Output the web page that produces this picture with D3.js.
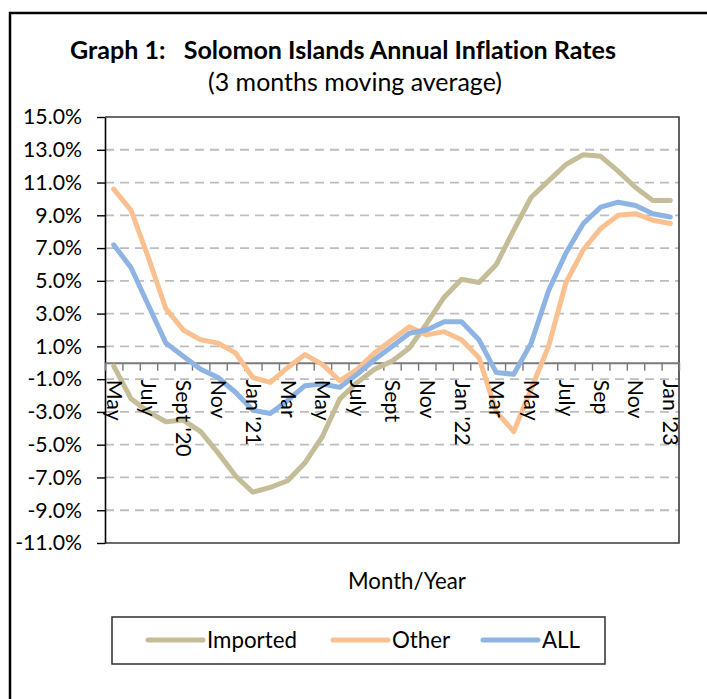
<!DOCTYPE html>
<html>
<head>
<meta charset="utf-8">
<script src="https://cdn.jsdelivr.net/npm/d3@7"></script>
<style>
  body { margin: 0; background: #fff; }
  text { font-family: Lato, "Open Sans", sans-serif; fill: #000; font-variant-ligatures: none; }
</style>
</head>
<body>
<div id="chart"></div>
<script>
// months on the category axis (May 2020 .. Jan 2023)
const months = ["May-20", "Jun-20", "Jul-20", "Aug-20", "Sep-20", "Oct-20", "Nov-20", "Dec-20",
    "Jan-21", "Feb-21", "Mar-21", "Apr-21", "May-21", "Jun-21", "Jul-21", "Aug-21", "Sep-21", "Oct-21", "Nov-21", "Dec-21",
    "Jan-22", "Feb-22", "Mar-22", "Apr-22", "May-22", "Jun-22", "Jul-22", "Aug-22", "Sep-22", "Oct-22", "Nov-22", "Dec-22",
    "Jan-23"];

// labels shown under every second month
const tickLabels = ["May", "July", "Sept '20", "Nov", "Jan '21", "Mar", "May", "July", "Sept", "Nov",
    "Jan '22", "Mar", "May", "July", "Sep", "Nov", "Jan '23"];

const yTicks = [15, 13, 11, 9, 7, 5, 3, 1, -1, -3, -5, -7, -9, -11];

// annual inflation, 3 months moving average (%)
const imported = [-0.2, -2.2, -3.0, -3.6, -3.5, -4.2, -5.5, -6.9, -7.9, -7.6, -7.2, -6.1, -4.5, -2.2, -1.2, -0.4,
    0.1, 0.9, 2.4, 4.0, 5.1, 4.9, 6.0, 8.1, 10.1, 11.1, 12.1, 12.7, 12.6, 11.7, 10.7, 9.9, 9.9];
const other = [10.6, 9.3, 6.4, 3.3, 2.0, 1.4, 1.2, 0.6, -0.9, -1.2, -0.3, 0.5, -0.1, -1.1, -0.4, 0.6,
    1.4, 2.2, 1.7, 1.9, 1.4, 0.3, -3.0, -4.2, -1.6, 1.0, 4.9, 6.9, 8.2, 9.0, 9.1, 8.7, 8.5];
const all = [7.2, 5.8, 3.5, 1.2, 0.4, -0.4, -0.9, -1.8, -2.9, -3.1, -2.3, -1.4, -1.3, -1.5, -0.7, 0.2,
    1.0, 1.8, 2.0, 2.5, 2.5, 1.4, -0.6, -0.7, 1.2, 4.4, 6.7, 8.5, 9.5, 9.8, 9.6, 9.1, 8.9];

const seriesNames = ["Imported", "Other", "ALL"];
const seriesValues = [imported, other, all];
const colors = ["#C4BD97", "#FAC090", "#8EB4E3"];

const W = 707, H = 699;
const plot = { left: 105, right: 679, top: 117, bottom: 543 };

const svg = d3.select("#chart").append("svg")
    .attr("width", W)
    .attr("height", H);

// font size that makes a string a given width
function fitSize(str, weight, width) {
    const t = svg.append("text")
        .style("font-size", "100px")
        .style("font-weight", weight)
        .style("white-space", "pre")
        .text(str);
    const w = t.node().getComputedTextLength();
    t.remove();
    return 100 * width / w;
}

// outer frame (only left and top edges fall inside the picture)
svg.append("path")
    .attr("d", `M10,${H} L10,13 L${W},13`)
    .attr("fill", "none")
    .attr("stroke", "#000")
    .attr("stroke-width", 2.5);

// scales
const x = d3.scaleBand().domain(months).range([plot.left, plot.right]);
const xEdge = d3.scaleLinear().domain([0, months.length]).range([plot.left, plot.right]);
const y = d3.scaleLinear().domain([-11, 15]).range([plot.bottom, plot.top]);
const cx = m => x(m) + x.bandwidth() / 2;

// gridlines
svg.append("g")
    .selectAll("line")
    .data(yTicks.filter(d => d !== 15 && d !== -11))
    .enter().append("line")
    .attr("x1", plot.left)
    .attr("x2", plot.right)
    .attr("y1", d => y(d))
    .attr("y2", d => y(d))
    .attr("stroke", "#BDBDBD")
    .attr("stroke-width", 1.8)
    .attr("stroke-dasharray", "9,6");

// plot border (top, right, bottom)
svg.append("path")
    .attr("d", `M${plot.left},${plot.top} H${plot.right} V${plot.bottom} H${plot.left}`)
    .attr("fill", "none")
    .attr("stroke", "#3a3a3a")
    .attr("stroke-width", 1.6);

// y axis
const yFont = fitSize("15.0%", 400, 59);
const yAxis = svg.append("g")
    .attr("transform", `translate(${plot.left},0)`)
    .call(d3.axisLeft(y).tickValues(yTicks).tickSize(8).tickSizeOuter(0).tickPadding(15)
        .tickFormat(d => d.toFixed(1) + "%"));
yAxis.select(".domain").attr("stroke", "#000").attr("stroke-width", 1.6);
yAxis.selectAll(".tick line").attr("stroke", "#000").attr("stroke-width", 1.4);
yAxis.selectAll(".tick text")
    .style("font-size", yFont + "px")
    .style("font-family", "Lato, sans-serif")
    .attr("fill", "#000");

// x axis at 0 with ticks between categories
const xAxis = svg.append("g")
    .attr("transform", `translate(0,${y(0)})`)
    .call(d3.axisBottom(xEdge).tickValues(d3.range(0, months.length + 1)).tickSize(8).tickSizeOuter(0).tickFormat(""));
xAxis.select(".domain").attr("stroke", "#7a7a7a").attr("stroke-width", 1.8);
xAxis.selectAll(".tick line").attr("stroke", "#7a7a7a").attr("stroke-width", 1.4);

// series
const line = d3.line()
    .x((d, i) => cx(months[i]))
    .y(d => y(d));

seriesValues.forEach((vals, k) => {
    svg.append("path")
        .datum(vals)
        .attr("d", line)
        .attr("fill", "none")
        .attr("stroke", colors[k])
        .attr("stroke-width", 5)
        .attr("stroke-linejoin", "round")
        .attr("stroke-linecap", "round");
});

// month labels, rotated, every second category
const xFont = fitSize("Sept '20", 400, 77);
const labelled = months.filter((m, i) => i % 2 === 0);
const xLab = svg.append("g")
    .attr("transform", `translate(0,${y(0)})`)
    .call(d3.axisBottom(x).tickValues(labelled).tickSize(0).tickFormat((d, i) => tickLabels[i]));
xLab.select(".domain").remove();
xLab.selectAll(".tick text")
    .attr("transform", "rotate(90)")
    .attr("x", 17)
    .attr("y", 0)
    .attr("dy", "0.33em")
    .attr("text-anchor", "start")
    .attr("fill", "#000")
    .style("font-size", xFont + "px")
    .style("font-family", "Lato, sans-serif");

// titles
const title = "Graph 1:   Solomon Islands Annual Inflation Rates";
svg.append("text")
    .attr("x", 343)
    .attr("y", 59)
    .attr("text-anchor", "middle")
    .style("white-space", "pre")
    .style("font-weight", 700)
    .style("font-size", fitSize(title, 700, 546) + "px")
    .text(title);

const subtitle = "(3 months moving average)";
svg.append("text")
    .attr("x", 355)
    .attr("y", 91)
    .attr("text-anchor", "middle")
    .style("font-size", fitSize(subtitle, 400, 294) + "px")
    .text(subtitle);

svg.append("text")
    .attr("x", 407)
    .attr("y", 589)
    .attr("text-anchor", "middle")
    .style("font-size", fitSize("Month/Year", 400, 118) + "px")
    .text("Month/Year");

// legend
const legend = svg.append("g");
legend.append("rect")
    .attr("x", 112)
    .attr("y", 617)
    .attr("width", 493)
    .attr("height", 47)
    .attr("fill", "none")
    .attr("stroke", "#2e2e2e")
    .attr("stroke-width", 1.5);

const legX = [148, 333, 483];
const legFont = fitSize("Imported", 400, 90);
seriesNames.forEach((name, k) => {
    legend.append("line")
        .attr("x1", legX[k])
        .attr("x2", legX[k] + 55)
        .attr("y1", 640)
        .attr("y2", 640)
        .attr("stroke", colors[k])
        .attr("stroke-width", 5)
        .attr("stroke-linecap", "round");
    legend.append("text")
        .attr("x", legX[k] + 59)
        .attr("y", 640)
        .attr("dy", "0.36em")
        .style("font-size", legFont + "px")
        .text(name);
});
</script>
</body>
</html>
